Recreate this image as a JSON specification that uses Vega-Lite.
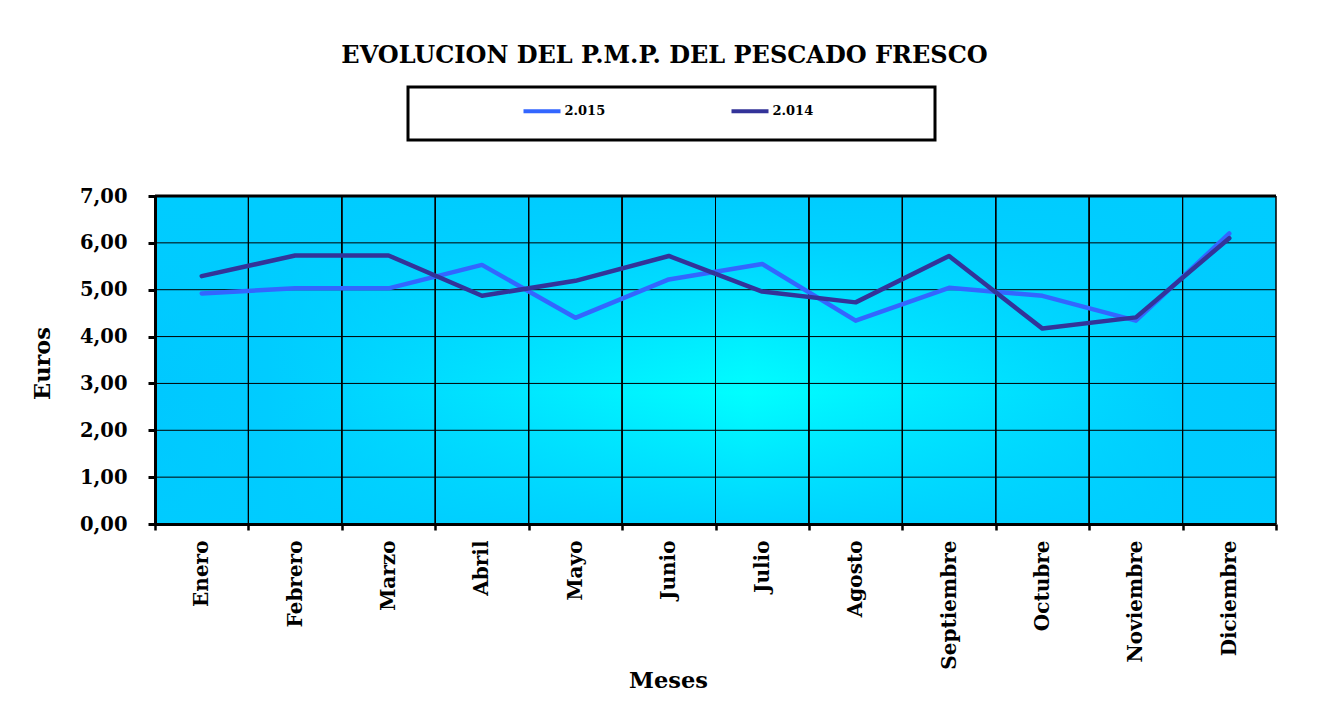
{
  "$schema": "https://vega.github.io/schema/vega-lite/v6.json",
  "width": 1121,
  "height": 328,
  "autosize": {"type": "none"},
  "padding": {"left": 155, "top": 196, "right": 52, "bottom": 201},
  "background": "white",
  "title": {
    "text": "EVOLUCION DEL P.M.P. DEL PESCADO FRESCO",
    "font": "DejaVu Serif",
    "fontSize": 24,
    "fontWeight": "bold",
    "color": "black",
    "anchor": "middle",
    "frame": "group",
    "dx": -51,
    "offset": 18
  },
  "data": {
    "values": [
      {"mes": "Enero", "anio": "2.015", "valor": 4.92},
      {"mes": "Febrero", "anio": "2.015", "valor": 5.03},
      {"mes": "Marzo", "anio": "2.015", "valor": 5.03},
      {"mes": "Abril", "anio": "2.015", "valor": 5.53},
      {"mes": "Mayo", "anio": "2.015", "valor": 4.40},
      {"mes": "Junio", "anio": "2.015", "valor": 5.22},
      {"mes": "Julio", "anio": "2.015", "valor": 5.55},
      {"mes": "Agosto", "anio": "2.015", "valor": 4.34},
      {"mes": "Septiembre", "anio": "2.015", "valor": 5.04},
      {"mes": "Octubre", "anio": "2.015", "valor": 4.87},
      {"mes": "Noviembre", "anio": "2.015", "valor": 4.34},
      {"mes": "Diciembre", "anio": "2.015", "valor": 6.20},
      {"mes": "Enero", "anio": "2.014", "valor": 5.29},
      {"mes": "Febrero", "anio": "2.014", "valor": 5.73},
      {"mes": "Marzo", "anio": "2.014", "valor": 5.73},
      {"mes": "Abril", "anio": "2.014", "valor": 4.87},
      {"mes": "Mayo", "anio": "2.014", "valor": 5.19},
      {"mes": "Junio", "anio": "2.014", "valor": 5.72},
      {"mes": "Julio", "anio": "2.014", "valor": 4.96},
      {"mes": "Agosto", "anio": "2.014", "valor": 4.73},
      {"mes": "Septiembre", "anio": "2.014", "valor": 5.72},
      {"mes": "Octubre", "anio": "2.014", "valor": 4.17},
      {"mes": "Noviembre", "anio": "2.014", "valor": 4.41},
      {"mes": "Diciembre", "anio": "2.014", "valor": 6.10}
    ]
  },
  "layer": [
    {
      "data": {"values": [{}]},
      "mark": {
        "type": "rect",
        "fill": {
          "gradient": "linear",
          "x1": 0, "y1": 0, "x2": 1, "y2": 0,
          "stops": [
            {"offset": 0, "color": "#00C8FF"},
            {"offset": 0.1, "color": "#00CCFF"},
            {"offset": 0.53, "color": "#00FFFF"},
            {"offset": 0.92, "color": "#00CCFF"},
            {"offset": 1, "color": "#00CAFF"}
          ]
        }
      },
      "encoding": {
        "y": {"datum": 0, "type": "quantitative"},
        "y2": {"datum": 7}
      }
    },
    {
      "data": {"values": [{}]},
      "mark": {
        "type": "rect",
        "fill": {
          "gradient": "linear",
          "x1": 0, "y1": 0, "x2": 0, "y2": 1,
          "stops": [
            {"offset": 0, "color": "rgba(0,204,255,1)"},
            {"offset": 0.15, "color": "rgba(0,204,255,0.85)"},
            {"offset": 0.6, "color": "rgba(0,204,255,0)"},
            {"offset": 1, "color": "rgba(0,204,255,0.85)"}
          ]
        }
      },
      "encoding": {
        "y": {"datum": 0, "type": "quantitative"},
        "y2": {"datum": 7}
      }
    },
    {
      "mark": {"type": "rect", "fill": null, "stroke": "black", "strokeWidth": 1},
      "encoding": {
        "x": {
          "field": "mes",
          "type": "nominal",
          "sort": ["Enero", "Febrero", "Marzo", "Abril", "Mayo", "Junio", "Julio", "Agosto", "Septiembre", "Octubre", "Noviembre", "Diciembre"],
          "scale": {"paddingInner": 0, "paddingOuter": 0}
        },
        "y": {"datum": 0, "type": "quantitative"},
        "y2": {"datum": 7}
      }
    },
    {"data": {"values": [{}]}, "mark": {"type": "rule", "color": "black", "strokeWidth": 1}, "encoding": {"y": {"datum": 1, "type": "quantitative"}}},
    {"data": {"values": [{}]}, "mark": {"type": "rule", "color": "black", "strokeWidth": 1}, "encoding": {"y": {"datum": 2, "type": "quantitative"}}},
    {"data": {"values": [{}]}, "mark": {"type": "rule", "color": "black", "strokeWidth": 1}, "encoding": {"y": {"datum": 3, "type": "quantitative"}}},
    {"data": {"values": [{}]}, "mark": {"type": "rule", "color": "black", "strokeWidth": 1}, "encoding": {"y": {"datum": 4, "type": "quantitative"}}},
    {"data": {"values": [{}]}, "mark": {"type": "rule", "color": "black", "strokeWidth": 1}, "encoding": {"y": {"datum": 5, "type": "quantitative"}}},
    {"data": {"values": [{}]}, "mark": {"type": "rule", "color": "black", "strokeWidth": 1}, "encoding": {"y": {"datum": 6, "type": "quantitative"}}},
    {"data": {"values": [{}]}, "mark": {"type": "rule", "color": "black", "strokeWidth": 3}, "encoding": {"y": {"datum": 7, "type": "quantitative"}}},
    {
      "mark": {"type": "line", "strokeWidth": 4.5, "strokeCap": "round", "strokeJoin": "round"},
      "encoding": {
        "x": {
          "field": "mes",
          "type": "nominal",
          "sort": ["Enero", "Febrero", "Marzo", "Abril", "Mayo", "Junio", "Julio", "Agosto", "Septiembre", "Octubre", "Noviembre", "Diciembre"],
          "scale": {"paddingInner": 0, "paddingOuter": 0},
          "axis": {
            "title": "Meses",
            "zindex": 1,
            "grid": false,
            "tickBand": "extent",
            "domainColor": "black",
            "domainWidth": 3,
            "tickColor": "black",
            "tickWidth": 2.5,
            "tickSize": 6,
            "labelAngle": 270,
            "labelPadding": 10,
            "labelFont": "DejaVu Serif",
            "labelFontWeight": "bold",
            "labelFontSize": 20,
            "labelColor": "black",
            "titleFont": "DejaVu Serif",
            "titleFontWeight": "bold",
            "titleFontSize": 22.5,
            "titleColor": "black",
            "titleX": 513,
            "titleY": 163,
            "titleBaseline": "alphabetic",
            "titleAlign": "center"
          }
        },
        "y": {
          "field": "valor",
          "type": "quantitative",
          "scale": {"domain": [0, 7], "nice": false},
          "axis": {
            "title": "Euros",
            "zindex": 1,
            "grid": false,
            "values": [0, 1, 2, 3, 4, 5, 6, 7],
            "labelExpr": "replace(format(datum.value, '.2f'), '.', ',')",
            "domainColor": "black",
            "domainWidth": 3,
            "tickColor": "black",
            "tickWidth": 3,
            "tickSize": 7,
            "labelPadding": 21,
            "labelFont": "DejaVu Serif",
            "labelFontWeight": "bold",
            "labelFontSize": 19.5,
            "labelColor": "black",
            "titleFont": "DejaVu Serif",
            "titleFontWeight": "bold",
            "titleFontSize": 22.5,
            "titleColor": "black",
            "titleX": -113,
            "titleY": 167,
            "titleBaseline": "middle",
            "titleAlign": "center",
            "titleAngle": 270
          }
        },
        "color": {
          "field": "anio",
          "type": "nominal",
          "sort": null,
          "scale": {"domain": ["2.015", "2.014"], "range": ["#3366FF", "#333399"]},
          "legend": {
            "orient": "none",
            "legendX": 253,
            "legendY": -109,
            "direction": "horizontal",
            "title": " ",
            "titleOrient": "right",
            "titlePadding": 118,
            "titleFontSize": 31.5,
            "titleBaseline": "top",
            "symbolType": "stroke",
            "symbolStrokeWidth": 4,
            "symbolSize": 1369,
            "labelOffset": 2,
            "symbolOffset": 110,
            "columnPadding": 14,
            "padding": 3.5,
            "strokeColor": "black",
            "fillColor": "white",
            "labelFont": "DejaVu Serif",
            "labelFontWeight": "bold",
            "labelFontSize": 13,
            "labelColor": "black"
          }
        }
      }
    }
  ],
  "config": {
    "view": {"stroke": null},
    "legend": {"strokeWidth": 3}
  }
}
